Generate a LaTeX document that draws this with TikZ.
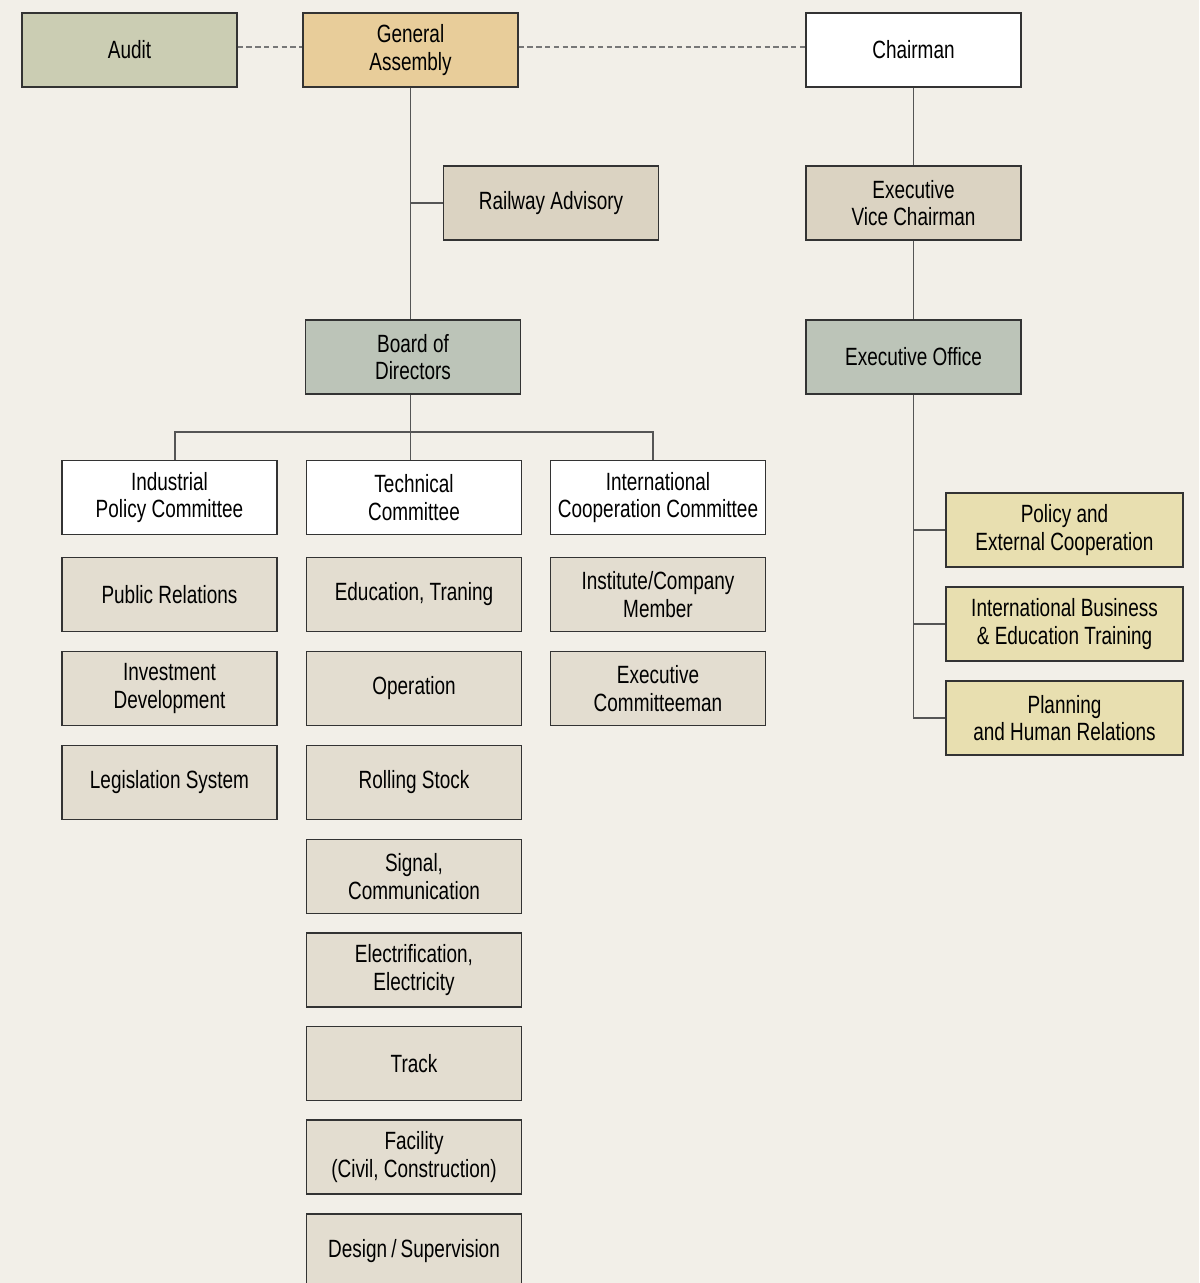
\documentclass[tikz,border=0pt]{standalone}
\usepackage{fontspec}
\setmainfont{Liberation Sans}[FakeStretch=0.76]
\definecolor{bgcol}{HTML}{F2EFE8}
\definecolor{auditcol}{HTML}{CBCDB3}
\definecolor{gacol}{HTML}{E8CD9A}
\definecolor{tancol}{HTML}{DBD3C2}
\definecolor{boardcol}{HTML}{BCC4B8}
\definecolor{subcol}{HTML}{E3DDD0}
\definecolor{offcol}{HTML}{E8DFB0}
\definecolor{linecol}{HTML}{555555}
\tikzset{
    box/.style={draw=black!80, line width=0.8pt, minimum width=4.3cm, minimum height=1.48cm,
        inner sep=0pt, align=center, font=\fontsize{14.2}{15.6}\selectfont},
    widebox/.style={box, minimum width=4.74cm},
    conn/.style={draw=linecol, line width=0.9pt},
    dotconn/.style={conn, draw=linecol!80, dash pattern=on 3pt off 2pt}
}
\begin{document}
\begin{tikzpicture}[x=0.02cm, y=-0.02cm]

    % Sfondo
    \clip (0,0) rectangle (1199,1283);
    \fill[bgcol] (0,0) rectangle (1199,1283);

    % Vertice
    \node[box, fill=auditcol] (audit) at (129.5,50) {Audit};
    \node[box, fill=gacol] (ga) at (410.5,50) {General\\Assembly};
    \node[box, fill=white] (chair) at (913.5,50) {Chairman};

    \draw[dotconn] ([yshift=0.06cm]audit.east) -- ([yshift=0.06cm]ga.west);
    \draw[dotconn] ([yshift=0.06cm]ga.east) -- ([yshift=0.06cm]chair.west);

    % Ramo sinistro
    \node[box, fill=tancol] (rail) at (551,203) {Railway Advisory};
    \node[box, fill=boardcol] (board) at (413,357) {Board of\\Directors};

    \draw[conn] (ga.south) -- (ga.south |- board.north);
    \draw[conn] (ga.south |- rail.west) -- (rail.west);

    % Ramo destro
    \node[box, fill=tancol] (evc) at (913.5,203) {Executive\\Vice Chairman};
    \node[box, fill=boardcol] (eo) at (913.5,357) {Executive Office};

    \draw[conn] (chair.south) -- (evc.north);
    \draw[conn] (evc.south) -- (eo.north);

    % Comitati
    \coordinate (bus) at (410.5,432);
    \node[box, fill=white] (ipc) at (169.5,497.5) {Industrial\\Policy Committee};
    \node[box, fill=white] (tc) at (414,497.5) {Technical\\Committee};
    \node[box, fill=white] (icc) at (658,497.5) {International\\Cooperation Committee};

    \draw[conn] (bus |- board.south) -- (bus);
    \draw[conn] (ipc.north -| 175,0) |- (bus) -| (icc.north -| 653,0);
    \draw[conn] (bus) -- (bus |- tc.north);

    % Colonna Industrial Policy
    \node[box, fill=subcol] (pr) at (169.5,594.5) {Public Relations};
    \node[box, fill=subcol] (inv) at (169.5,688.5) {Investment\\Development};
    \node[box, fill=subcol] (leg) at (169.5,782.5) {Legislation System};

    % Colonna Technical
    \node[box, fill=subcol] (edu) at (414,594.5) {Education, Traning};
    \node[box, fill=subcol] (op) at (414,688.5) {Operation};
    \node[box, fill=subcol] (rs) at (414,782.5) {Rolling Stock};
    \node[box, fill=subcol] (sig) at (414,876.5) {Signal,\\Communication};
    \node[box, fill=subcol] (elec) at (414,970) {Electrification,\\Electricity};
    \node[box, fill=subcol] (track) at (414,1063.5) {Track};
    \node[box, fill=subcol] (fac) at (414,1157) {Facility\\(Civil, Construction)};
    \node[box, fill=subcol] (des) at (414,1251) {Design\,/\,Supervision};

    % Colonna International Cooperation
    \node[box, fill=subcol] (icm) at (658,594.5) {Institute/Company\\Member};
    \node[box, fill=subcol] (ecm) at (658,688.5) {Executive\\Committeeman};

    % Uffici esecutivi
    \node[widebox, fill=offcol] (pol) at (1064.5,530) {Policy and\\External Cooperation};
    \node[widebox, fill=offcol] (ibe) at (1064.5,624) {International Business\\\& Education Training};
    \node[widebox, fill=offcol] (plan) at (1064.5,718) {Planning\\and Human Relations};

    \draw[conn] (eo.south) |- (plan.west);
    \draw[conn] (eo.south |- pol.west) -- (pol.west);
    \draw[conn] (eo.south |- ibe.west) -- (ibe.west);

\end{tikzpicture}
\end{document}
